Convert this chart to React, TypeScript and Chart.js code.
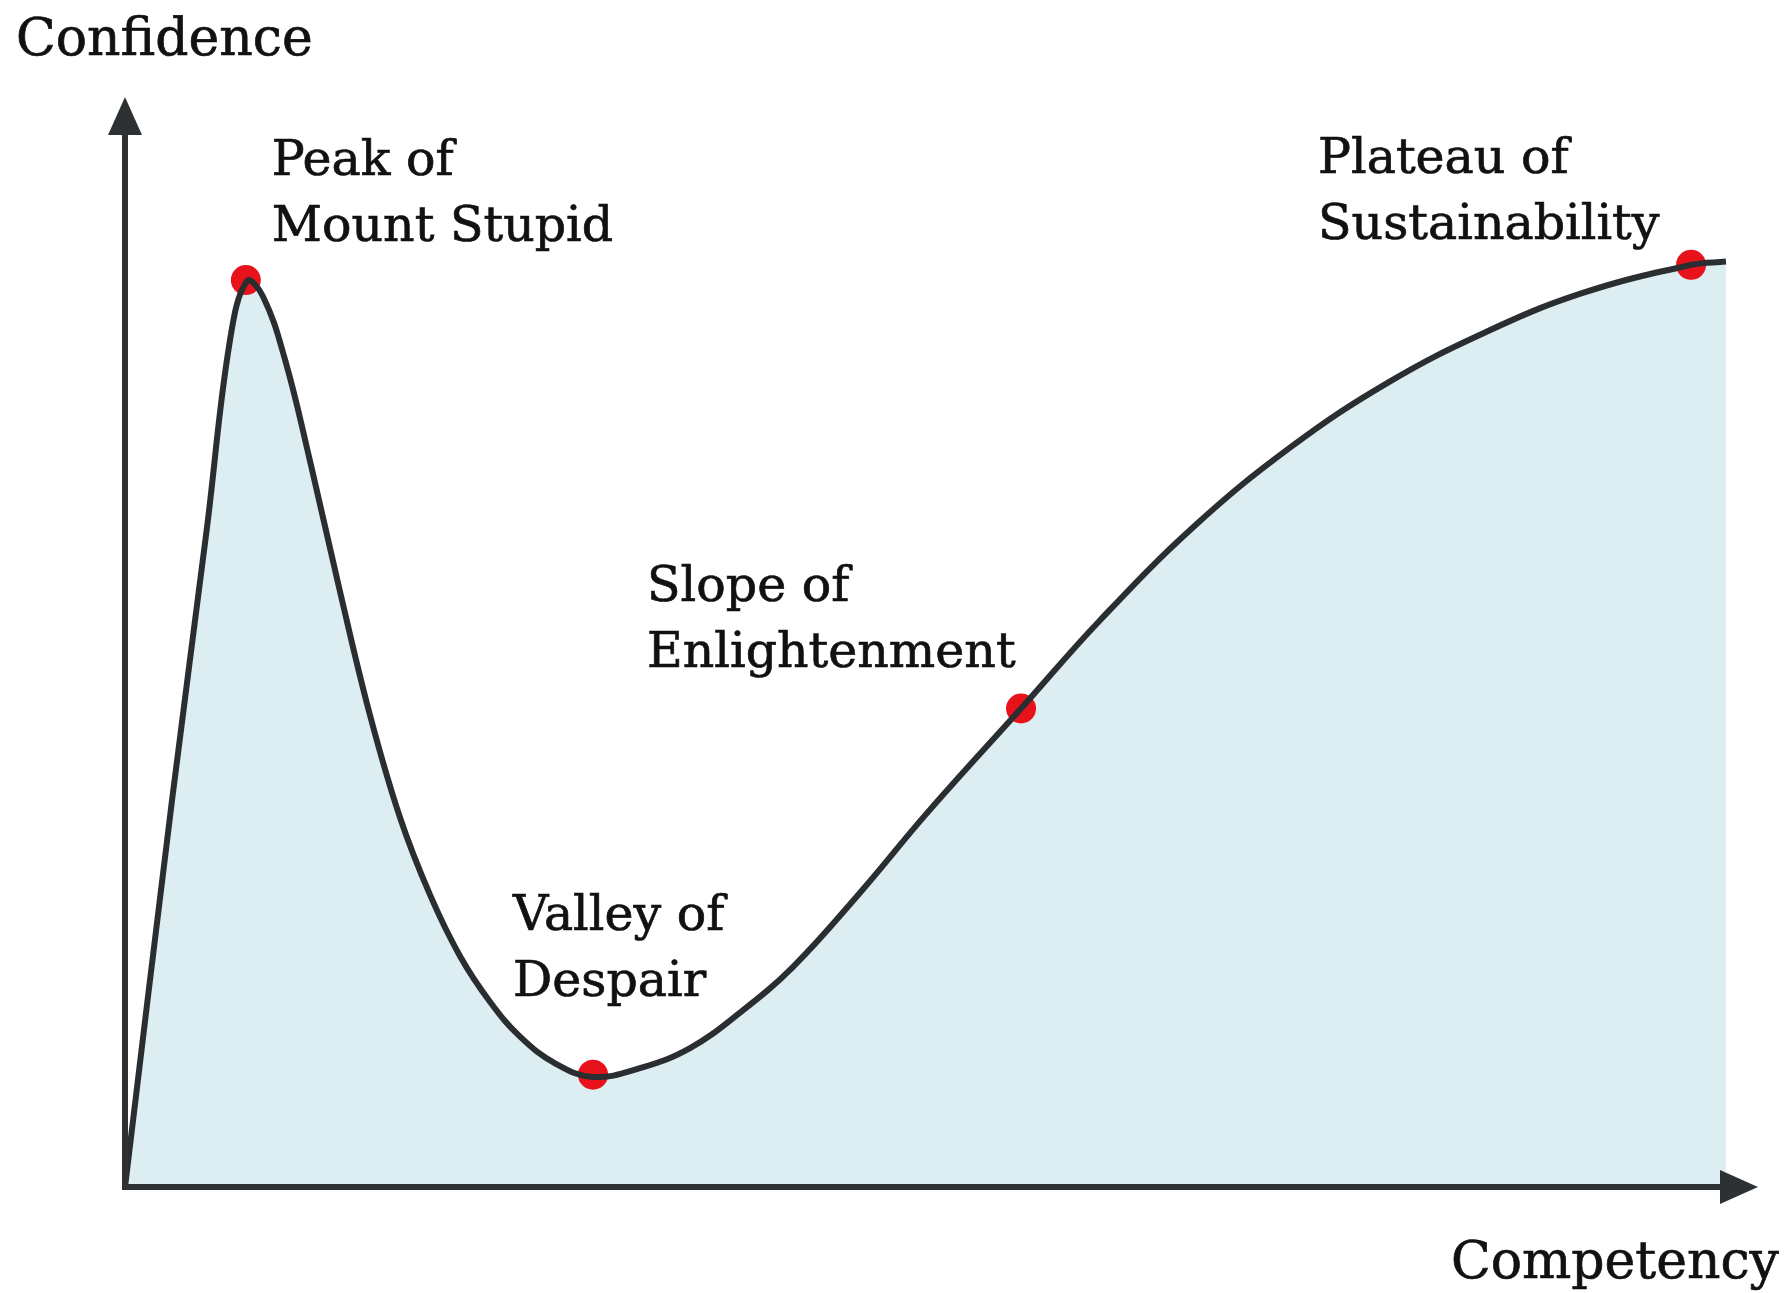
import { useEffect, useRef } from "react";
import { Chart, registerables } from "chart.js";

Chart.register(...registerables);

// Curve of the Dunning–Kruger effect: competency (x) vs confidence (y), both 0–100
const competency = [
  0, 2.88, 5.02, 6.43, 7.47, 8.45, 9.8, 11.33, 13.17, 15.0, 16.84, 18.68, 20.51,
  22.35, 24.19, 26.39, 28.66, 31.53, 34.6, 37.66, 40.91, 45.01, 49.11, 54.87, 59.71,
  65.46, 71.4, 77.34, 83.28, 89.22, 95.9, 98.04,
];
const confidence = [
  0, 35.5, 60.5, 77.7, 83.1, 81.7, 75.9, 66.6, 54.6, 43.3, 33.9, 26.8, 21.2,
  17.0, 13.8, 11.3, 10.1, 10.9, 12.75, 16.0, 20.2, 27.0, 34.3, 43.9, 52.0,
  60.6, 67.9, 73.8, 78.4, 82.0, 84.6, 84.9,
];

// Named stages (red markers)
const stageLabels = [
  ["Peak of", "Mount Stupid"],
  ["Valley of", "Despair"],
  ["Slope of", "Enlightenment"],
  ["Plateau of", "Sustainability"],
];
const stageCompetency = [7.4, 28.66, 54.87, 95.9];
const stageConfidence = [83.2, 10.3, 43.9, 84.6];

const xAxisTitle = "Competency";
const yAxisTitle = "Confidence";

const FONT_FAMILY = '"DejaVu Serif", serif';
const INK = "#111111";
const AXIS = "#2e3133";

// label placement relative to each marker (pixels): [dx, dy of first baseline]
const labelOffsets = [
  [26, -105],
  [-80, -145],
  [-374, -107],
  [-373, -92],
];

function drawText(ctx: CanvasRenderingContext2D, text: string, x: number, y: number) {
  ctx.fillText(text, x, y);
  ctx.strokeText(text, x, y);
}

const overlayPlugin = {
  id: "overlay",
  afterDatasetsDraw(chart: any) {
    const { ctx, chartArea } = chart;
    const { left, right, top, bottom } = chartArea;
    ctx.save();
    ctx.strokeStyle = AXIS;
    ctx.fillStyle = AXIS;
    ctx.lineWidth = 6;
    ctx.lineCap = "butt";
    const headLen = 38;
    const headHalf = 17;
    ctx.beginPath();
    ctx.moveTo(left, bottom + 3);
    ctx.lineTo(left, top + headLen - 4);
    ctx.stroke();
    ctx.beginPath();
    ctx.moveTo(left - 3, bottom);
    ctx.lineTo(right - headLen + 4, bottom);
    ctx.stroke();
    ctx.beginPath();
    ctx.moveTo(left, top);
    ctx.lineTo(left - headHalf, top + headLen);
    ctx.lineTo(left + headHalf, top + headLen);
    ctx.closePath();
    ctx.fill();
    ctx.beginPath();
    ctx.moveTo(right, bottom);
    ctx.lineTo(right - headLen, bottom - headHalf);
    ctx.lineTo(right - headLen, bottom + headHalf);
    ctx.closePath();
    ctx.fill();
    ctx.restore();
  },
  afterDraw(chart: any) {
    const { ctx, chartArea, scales } = chart;
    const { left, right, top, bottom } = chartArea;
    ctx.save();
    ctx.fillStyle = INK;
    ctx.strokeStyle = INK;
    ctx.lineWidth = 0.7;
    ctx.textBaseline = "alphabetic";
    // axis titles
    ctx.font = `52px ${FONT_FAMILY}`;
    ctx.textAlign = "left";
    drawText(ctx, yAxisTitle, left - 109, top - 42);
    ctx.textAlign = "right";
    drawText(ctx, xAxisTitle, right + 21, bottom + 91);
    // stage labels
    ctx.font = `49px ${FONT_FAMILY}`;
    ctx.textAlign = "left";
    stageLabels.forEach((lines, i) => {
      const px = scales.x.getPixelForValue(stageCompetency[i]);
      const py = scales.y.getPixelForValue(stageConfidence[i]);
      const [dx, dy] = labelOffsets[i];
      lines.forEach((line, j) => {
        drawText(ctx, line, px + dx, py + dy + j * 66);
      });
    });
    ctx.restore();
  },
};

export default function App() {
  const canvasRef = useRef<HTMLCanvasElement | null>(null);

  useEffect(() => {
    document.body.style.margin = "0";
    const canvas = canvasRef.current;
    if (!canvas) return;
    const chart = new Chart(canvas, {
      type: "line",
      data: {
        datasets: [
          {
            label: "Confidence",
            data: competency.map((x, i) => ({ x, y: confidence[i] })),
            borderColor: "#2b2e30",
            borderWidth: 6,
            backgroundColor: "#ddeef3",
            fill: "origin",
            pointRadius: 0,
            tension: 0.4,
            order: 0,
          },
          {
            label: "Stages",
            data: stageCompetency.map((x, i) => ({ x, y: stageConfidence[i] })),
            showLine: false,
            pointRadius: 15,
            pointBackgroundColor: "#e8121a",
            pointBorderWidth: 0,
            borderColor: "#e8121a",
            fill: false,
            order: 1,
          },
        ],
      },
      options: {
        responsive: false,
        animation: false,
        devicePixelRatio: 1,
        layout: { padding: { left: 125, right: 32, top: 97, bottom: 106 } },
        scales: {
          x: { type: "linear", min: 0, max: 100, display: false },
          y: { type: "linear", min: 0, max: 100, display: false },
        },
        plugins: {
          legend: { display: false },
          tooltip: { enabled: false },
          filler: { drawTime: "beforeDatasetsDraw" },
        },
      },
      plugins: [overlayPlugin],
    });
    return () => chart.destroy();
  }, []);

  return (
    <div style={{ width: 1790, height: 1293, background: "#ffffff" }}>
      <canvas ref={canvasRef} width={1790} height={1293} style={{ display: "block" }} />
    </div>
  );
}
